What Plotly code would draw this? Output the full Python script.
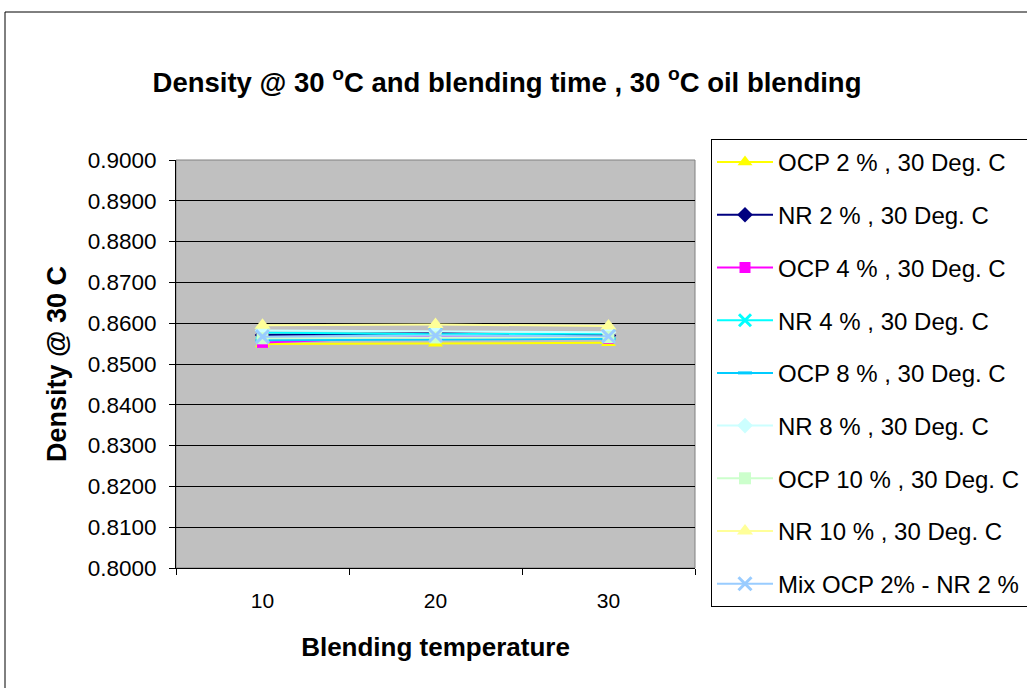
import plotly.graph_objects as go

# Blending temperatures (category axis)
temps = ["10", "20", "30"]

# Density @ 30 C for each blend
ocp_2 = [0.8549, 0.8551, 0.8552]
nr_2 = [0.8571, 0.8576, 0.8570]
ocp_4 = [0.8553, 0.8568, 0.8563]
nr_4 = [0.8577, 0.8573, 0.8575]
ocp_8 = [0.8558, 0.8560, 0.8562]
nr_8 = [0.8582, 0.8580, 0.8578]
ocp_10 = [0.8563, 0.8565, 0.8566]
nr_10 = [0.8595, 0.8597, 0.8593]
mix_2_2 = [0.8567, 0.8570, 0.8568]

y_ticks = [0.80, 0.81, 0.82, 0.83, 0.84, 0.85, 0.86, 0.87, 0.88, 0.89, 0.90]

series = [
    ("OCP 2 % , 30 Deg. C", ocp_2, "#FFFF00", "triangle-up", 13),
    ("NR 2 % , 30 Deg. C", nr_2, "#000080", "diamond", 12),
    ("OCP 4 % , 30 Deg. C", ocp_4, "#FF00FF", "square", 11),
    ("NR 4 % , 30 Deg. C", nr_4, "#00FFFF", "x-thin", 12),
    ("OCP 8 % , 30 Deg. C", ocp_8, "#00CCFF", "line-ew", 10),
    ("NR 8 % , 30 Deg. C", nr_8, "#CCFFFF", "diamond", 12),
    ("OCP 10 % , 30 Deg. C", ocp_10, "#CCFFCC", "square", 12),
    ("NR 10 % , 30 Deg. C", nr_10, "#FFFF99", "triangle-up", 14),
    ("Mix OCP 2% - NR 2 % , 30 Deg. C", mix_2_2, "#99CCFF", "x-thin", 13),
]

fig = go.Figure()
for i, (name, vals, color, symbol, size) in enumerate(series):
    thin = symbol in ("x-thin", "line-ew")
    fig.add_trace(go.Scatter(
        x=temps, y=vals, name=name, mode="lines+markers",
        legendgroup=f"g{i}",
        line=dict(color=color, width=2),
        marker=dict(symbol=symbol, size=size, color=color,
                    line=dict(color=color, width=3 if thin else 0)),
    ))

W, H = 1027, 688
L, R, T, B = 176, 695, 160, 568


def px_x(p):
    return (p - L) / (R - L)


def px_y(p):
    return (B - p) / (B - T)


fig.update_layout(
    width=W, height=H,
    margin=dict(l=L, r=W - R, t=T, b=H - B, autoexpand=False),
    paper_bgcolor="white",
    plot_bgcolor="#C0C0C0",
    font=dict(family="Liberation Sans, Arial, sans-serif", size=20, color="black"),
    title=dict(
        text="<b>Density @ 30 <sup>o</sup>C and blending time , 30 <sup>o</sup>C oil blending</b>",
        x=507 / W, xanchor="center", y=1 - 82 / H, yanchor="middle",
        font=dict(size=27.5),
    ),
    xaxis=dict(
        type="category", range=[-0.5, 2.5],
        showgrid=False, showline=True, linecolor="black", linewidth=1,
        ticks="outside", ticklen=6, tickcolor="black", tickson="boundaries",
        tickfont=dict(size=21), ticklabelstandoff=14,
        title=dict(text="<b>Blending temperature</b>", font=dict(size=26), standoff=26),
    ),
    yaxis=dict(
        range=[0.80, 0.90], tickvals=y_ticks, tickformat=".4f",
        showgrid=True, gridcolor="black", gridwidth=1,
        showline=True, linecolor="black", linewidth=1,
        ticks="outside", ticklen=6, tickcolor="black",
        tickfont=dict(size=22.5), ticklabelstandoff=8,
        title=dict(text="<b>Density @ 30 C</b>", font=dict(size=27), standoff=13),
        zeroline=False,
    ),
    legend=dict(
        x=px_x(711), xanchor="left", y=px_y(139), yanchor="top",
        bordercolor="black", borderwidth=1, bgcolor="white",
        font=dict(size=24), tracegroupgap=18.5, itemwidth=56,
        maxheight=600,
    ),
    showlegend=True,
)

# Plot-area frame and outer chart border
fig.add_shape(type="rect", xref="paper", yref="paper", x0=0, x1=1, y0=0, y1=1,
              line=dict(color="#808080", width=1), layer="below")
fig.add_shape(type="rect", xref="paper", yref="paper",
              x0=px_x(5), x1=px_x(1045), y0=px_y(705), y1=px_y(12),
              line=dict(color="black", width=1), layer="below")

fig.write_html("out.html")
